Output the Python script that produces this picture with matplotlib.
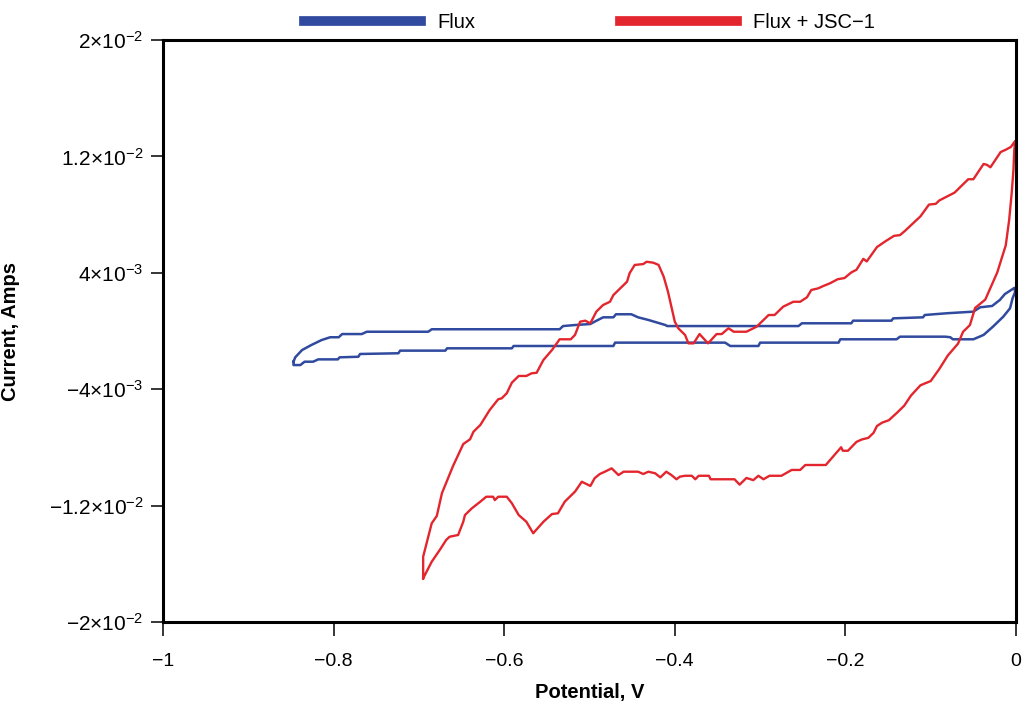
import matplotlib
matplotlib.use("Agg")
import matplotlib.pyplot as plt
from matplotlib.ticker import FixedLocator, FixedFormatter

FONT = ["Liberation Sans", "DejaVu Sans"]
plt.rcParams["font.family"] = FONT
plt.rcParams["mathtext.fontset"] = "custom"
plt.rcParams["mathtext.rm"] = "Liberation Sans"
plt.rcParams["mathtext.it"] = "Liberation Sans"
plt.rcParams["mathtext.bf"] = "Liberation Sans:bold"

# ---- data (potential in V, current in mA) ----
flux_v = [-0.847, -0.845, -0.837, -0.826, -0.814, -0.804, -0.794, -0.790, -0.767, -0.761,
          -0.689, -0.685, -0.535, -0.531, -0.517, -0.499, -0.494, -0.484, -0.472, -0.469,
          -0.451, -0.443, -0.431, -0.411, -0.409, -0.255, -0.251, -0.193, -0.191, -0.146,
          -0.144, -0.109, -0.107, -0.081, -0.050, -0.042, -0.028, -0.019, -0.013, -0.002,
          -0.001, -0.004, -0.007, -0.015, -0.027, -0.038, -0.050, -0.074, -0.077, -0.083,
          -0.136, -0.140, -0.206, -0.208, -0.300, -0.302, -0.335, -0.341, -0.470, -0.472,
          -0.589, -0.591, -0.667, -0.669, -0.722, -0.724, -0.769, -0.771, -0.793, -0.795,
          -0.818, -0.824, -0.834, -0.839, -0.847, -0.847]
flux_i = [-2.11, -1.81, -1.31, -0.96, -0.62, -0.43, -0.43, -0.21, -0.21, -0.05,
          -0.05, 0.12, 0.12, 0.34, 0.41, 0.48, 0.64, 0.94, 0.94, 1.15,
          1.15, 0.94, 0.76, 0.41, 0.34, 0.34, 0.53, 0.53, 0.71, 0.71,
          0.87, 0.94, 1.10, 1.22, 1.33, 1.63, 1.72, 2.13, 2.54, 2.96,
          2.68, 2.25, 1.56, 0.98, 0.30, -0.27, -0.57, -0.57, -0.43, -0.39,
          -0.39, -0.57, -0.57, -0.80, -0.80, -1.03, -1.03, -0.80, -0.80, -1.03,
          -1.03, -1.19, -1.19, -1.35, -1.35, -1.53, -1.58, -1.77, -1.81, -1.95,
          -1.95, -2.11, -2.11, -2.34, -2.34, -2.11]

jsc_v = [-0.695, -0.695, -0.685, -0.679, -0.673, -0.660, -0.648, -0.640, -0.636, -0.628,
         -0.617, -0.607, -0.603, -0.597, -0.591, -0.583, -0.574, -0.568, -0.562, -0.554,
         -0.544, -0.538, -0.535, -0.522, -0.517, -0.511, -0.505, -0.499, -0.492, -0.484,
         -0.476, -0.472, -0.456, -0.453, -0.447, -0.437, -0.433, -0.425, -0.419, -0.413,
         -0.408, -0.400, -0.396, -0.388, -0.384, -0.378, -0.371, -0.361, -0.351, -0.345,
         -0.337, -0.331, -0.316, -0.304, -0.290, -0.283, -0.273, -0.261, -0.253, -0.245,
         -0.240, -0.232, -0.226, -0.218, -0.209, -0.201, -0.193, -0.187, -0.179, -0.175,
         -0.163, -0.153, -0.143, -0.136, -0.130, -0.112, -0.102, -0.094, -0.090, -0.072,
         -0.056, -0.050, -0.038, -0.034, -0.030, -0.018, -0.012, -0.006, -0.001,
         -0.002, -0.003, -0.005, -0.008, -0.012, -0.022, -0.036, -0.048, -0.054, -0.062,
         -0.068, -0.080, -0.090, -0.100, -0.112, -0.123, -0.131, -0.139, -0.149, -0.157,
         -0.163, -0.167, -0.173, -0.181, -0.187, -0.197, -0.203, -0.205, -0.223, -0.247,
         -0.253, -0.263, -0.275, -0.289, -0.296, -0.302, -0.308, -0.316, -0.324, -0.330,
         -0.358, -0.360, -0.372, -0.376, -0.380, -0.388, -0.394, -0.398, -0.404, -0.410,
         -0.417, -0.423, -0.431, -0.437, -0.443, -0.460, -0.466, -0.474, -0.482, -0.488,
         -0.494, -0.499, -0.509, -0.517, -0.529, -0.537, -0.544, -0.554, -0.566, -0.574,
         -0.583, -0.591, -0.597, -0.607, -0.611, -0.613, -0.621, -0.628, -0.638, -0.646,
         -0.648, -0.654, -0.664, -0.668, -0.675, -0.681, -0.685, -0.695]
jsc_i = [-17.00, -15.51, -13.22, -12.71, -11.15, -9.28, -7.77, -7.44, -6.92, -6.46,
         -5.43, -4.69, -4.63, -4.28, -3.55, -3.09, -3.09, -2.91, -2.87, -1.99,
         -1.31, -0.82, -0.57, -0.57, -0.27, 0.64, 0.71, 0.53, 1.33, 1.79,
         2.01, 2.47, 3.39, 3.97, 4.54, 4.60, 4.76, 4.69, 4.54, 3.73,
         2.70, 0.64, 0.19, -0.27, -0.85, -0.85, -0.21, -0.85, -0.21, -0.21,
         0.19, -0.05, -0.05, 0.30, 1.10, 1.10, 1.67, 2.01, 2.01, 2.32,
         2.82, 2.93, 3.09, 3.28, 3.56, 3.64, 4.03, 4.21, 4.96, 4.78,
         5.77, 6.17, 6.54, 6.59, 6.89, 7.88, 8.69, 8.74, 8.97, 9.51,
         10.43, 10.43, 11.48, 11.42, 11.25, 12.30, 12.46, 12.65, 13.06,
         12.44, 11.07, 9.51, 7.64, 5.89, 4.02, 2.16, 1.58, 0.41, -0.05,
         -0.87, -1.69, -2.62, -3.44, -3.73, -4.43, -5.13, -5.59, -6.13, -6.30,
         -6.53, -7.00, -7.34, -7.46, -7.62, -8.23, -8.23, -7.99, -9.21, -9.21,
         -9.55, -9.55, -9.95, -9.95, -10.19, -9.95, -10.25, -10.10, -10.56, -10.19,
         -10.19, -9.95, -9.95, -10.19, -9.95, -9.95, -10.01, -10.19, -9.90, -9.67,
         -10.06, -9.78, -9.67, -9.83, -9.67, -9.67, -9.90, -9.44, -9.67, -9.83,
         -10.12, -10.65, -10.36, -11.04, -11.73, -12.53, -12.58, -13.11, -13.90, -13.11,
         -12.65, -11.84, -11.39, -11.39, -11.62, -11.39, -11.39, -11.73, -12.19, -12.65,
         -13.11, -14.02, -14.14, -14.36, -15.00, -15.51, -15.86, -17.00]

x_ticks = [-1, -0.8, -0.6, -0.4, -0.2, 0]
x_labels = ["\u22121", "\u22120.8", "\u22120.6", "\u22120.4", "\u22120.2", "0"]
y_ticks = [2e-2, 1.2e-2, 4e-3, -4e-3, -1.2e-2, -2e-2]
y_labels = [r"$2{\times}10^{-2}$", r"$1.2{\times}10^{-2}$", r"$4{\times}10^{-3}$",
            r"$-4{\times}10^{-3}$", r"$-1.2{\times}10^{-2}$", r"$-2{\times}10^{-2}$"]

BLUE = "#2f4a9e"
RED = "#e3262d"

fig = plt.figure(figsize=(10.24, 7.10), dpi=100)
ax = fig.add_axes([163 / 1024, 1 - 622 / 710, (1016 - 163) / 1024, (622 - 40) / 710])

ax.plot(flux_v, [i / 1000 for i in flux_i], color=BLUE, lw=1.8,
        label="Flux", solid_joinstyle="round")
ax.plot(jsc_v, [i / 1000 for i in jsc_i], color=RED, lw=1.7,
        label="Flux + JSC\u22121", solid_joinstyle="round")

ax.set_xlim(-1, 0)
ax.set_ylim(-2e-2, 2e-2)
ax.xaxis.set_major_locator(FixedLocator(x_ticks))
ax.xaxis.set_major_formatter(FixedFormatter(x_labels))
ax.yaxis.set_major_locator(FixedLocator(y_ticks))
ax.yaxis.set_major_formatter(FixedFormatter(y_labels))
ax.tick_params(axis="x", direction="out", length=10, width=1.1, labelsize=14, pad=12)
ax.tick_params(axis="y", direction="out", length=9, width=1.1, labelsize=15, pad=5)
for s in ax.spines.values():
    s.set_linewidth(2.2)

ax.set_xlabel("Potential, V", fontsize=14.5, fontweight="bold", labelpad=10)
ax.set_ylabel("Current, Amps", fontsize=14.5, fontweight="bold")
ax.yaxis.set_label_coords((20 - 163) / 853, 0.5)

leg = ax.legend(loc="lower center", bbox_to_anchor=(0.5, 1.0), ncol=2, frameon=False,
                fontsize=14.5, handlelength=5.8, columnspacing=7.2, handletextpad=0.8,
                borderaxespad=0)
for h in leg.get_lines():
    h.set_linewidth(7)

fig.savefig("out.png", dpi=100)
